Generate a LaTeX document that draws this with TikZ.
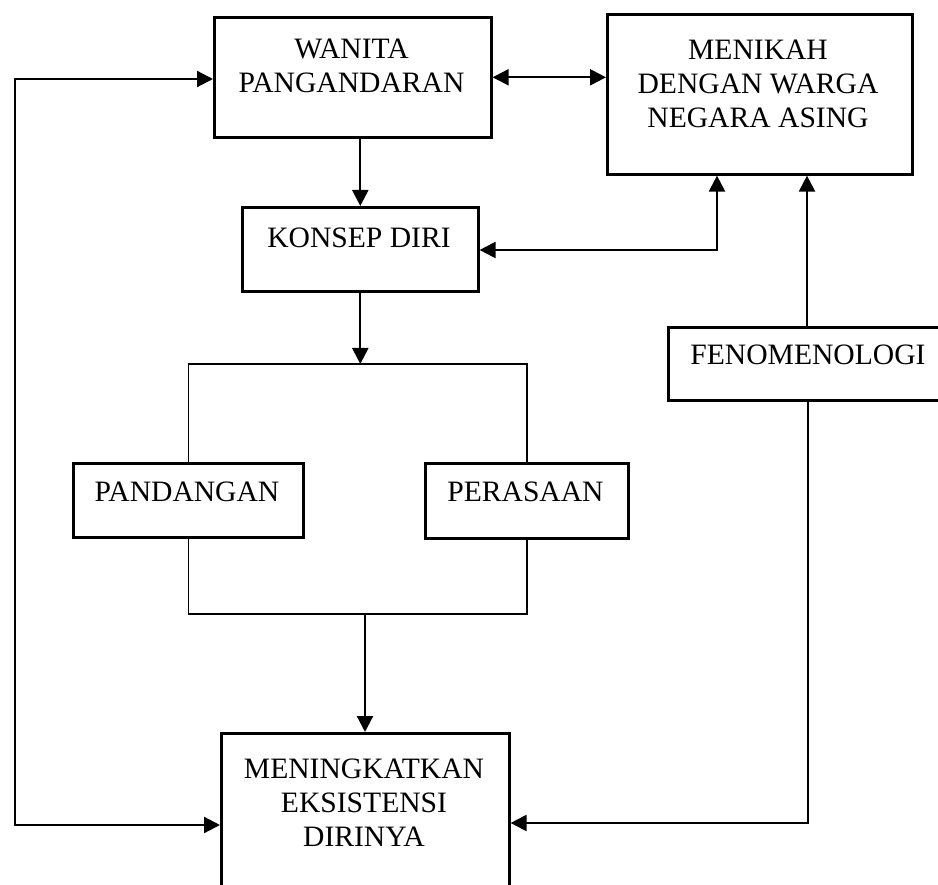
\documentclass[tikz,border=0pt]{standalone}
\usepackage{fontspec}
\setmainfont{Liberation Serif}
\usetikzlibrary{arrows.meta,positioning}

\begin{document}
\begin{tikzpicture}[x=1pt, y=-1pt,
  box/.style={draw, rectangle, line width=2.6pt, anchor=north west, inner sep=0pt},
  lbl/.style={anchor=north, inner sep=0pt, align=center, font=\fontsize{29.6}{34}\selectfont},
  conn/.style={line width=2.2pt, -{Triangle[length=16pt,width=16pt]}},
  dconn/.style={line width=2.2pt, {Triangle[length=16pt,width=16pt]}-{Triangle[length=16pt,width=16pt]}},
  link/.style={line width=1.6pt}]
\useasboundingbox (0,0) rectangle (938,885);
\clip (0,0) rectangle (938,885);
% Boxes
\node[box, minimum width=277pt, minimum height=120pt] (wanita) at (213,16) {};
\node[box, minimum width=305pt, minimum height=160pt] (menikah) at (606,13) {};
\node[box, minimum width=236pt, minimum height=84pt] (konsep) at (241,206) {};
\node[box, minimum width=230pt, minimum height=74pt] (pandangan) at (72,462) {};
\node[box, minimum width=203pt, minimum height=75pt] (perasaan) at (424,462) {};
\node[box, minimum width=290pt, minimum height=73pt] (fenomen) at (667,326) {};
\node[box, minimum width=288pt, minimum height=180pt] (meningkat) at (220,732) {};
% Labels
\node[lbl] (wanitatxt) at (351.5,39) {WANITA\\PANGANDARAN};
\node[lbl] (menikahtxt) at (758,40) {MENIKAH\\DENGAN WARGA\\NEGARA ASING};
\node[lbl] (konseptxt) at (359,228) {KONSEP DIRI};
\node[lbl] (pandangantxt) at (187,482) {PANDANGAN};
\node[lbl] (perasaantxt) at (525.5,482) {PERASAAN};
\node[lbl] (fenomentxt) at (808,345) {FENOMENOLOGI};
\node[lbl] (meningkattxt) at (364,759) {MENINGKATKAN\\EKSISTENSI\\DIRINYA};
% Turning points
\coordinate (lt) at (15,79);
\coordinate (lb) at (15,825);
\coordinate (mk) at (717,250);
\coordinate (split) at (359,364);
\coordinate (join) at (365,614);
\coordinate (fx) at (807,0);
\coordinate (rb) at (808,823);
% Connectors
\draw[dconn] (wanita.west |- lt) -- (lt) -- (lb) -- (meningkat.west |- lb);
\draw[dconn] (wanita.east) -- (wanita.east -| menikah.west);
\draw[conn] (wanita.south -| konsep.north) -- (konsep.north);
\draw[dconn] (konsep.east |- mk) -- (mk) -- (menikah.south -| mk);
\draw[conn] (konsep.south) -- (konsep.south |- split);
\draw[link] (pandangan.north) |- (split) -| (perasaan.north);
\draw[link] (pandangan.south) |- (join) -| (perasaan.south);
\draw[conn] (join) -- (join |- meningkat.north);
\draw[conn] (fenomen.north -| fx) -- (menikah.south -| fx);
\draw[conn] (fenomen.south -| rb) -- (rb) -- (meningkat.east |- rb);
\end{tikzpicture}
\end{document}
